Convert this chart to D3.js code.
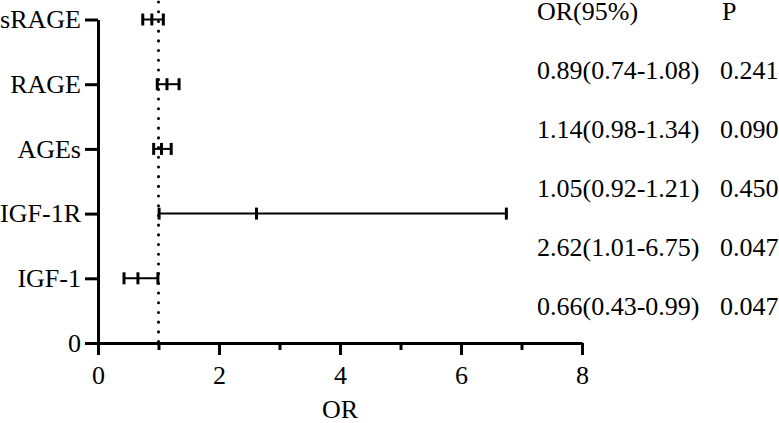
<!DOCTYPE html>
<html>
<head>
<meta charset="utf-8">
<script src="https://cdn.jsdelivr.net/npm/d3@7"></script>
</head>
<body style="margin:0;background:#fff">
<svg id="chart" width="779" height="423" style="display:block"></svg>
<script>
// ---- data (bottom to top on the y axis) ----
const categories = ["IGF-1", "IGF-1R", "AGEs", "RAGE", "sRAGE"];
const orValues   = [0.66, 2.62, 1.05, 1.14, 0.89];
const lowerCI    = [0.43, 1.01, 0.92, 0.98, 0.74];
const upperCI    = [0.99, 6.75, 1.21, 1.34, 1.08];
const pValues    = ["0.047", "0.047", "0.450", "0.090", "0.241"];
const xMajorTicks = [0, 2, 4, 6, 8];
const xMinorTicks = [1, 3, 5, 7];
const yTicks = [0, 1, 2, 3, 4, 5];
const refValue = 1;
const tableHeader = ["OR(95%)", "P"];
const xTitle = "OR";

const FS = 26;
const svg = d3.select("#chart");

function styleText(sel) {
  sel.attr("font-size", FS).attr("fill", "#000")
     .attr("font-family", "Liberation Serif")
     .style("font-family", '"Liberation Serif"');
  return sel;
}

const x = d3.scaleLinear().domain([0, 8]).range([98, 582]);
const y = d3.scaleLinear().domain([0, 5]).range([343, 19.5]);

// reference dotted line
svg.append("line")
  .attr("x1", x(refValue)).attr("x2", x(refValue))
  .attr("y1", 2).attr("y2", y(0))
  .attr("stroke", "#000").attr("stroke-width", 3)
  .attr("stroke-linecap", "round")
  .attr("stroke-dasharray", "0.1,9.6");

// x axis
const xAxis = svg.append("g").attr("transform", `translate(0,${y(0)})`)
  .call(d3.axisBottom(x).tickValues(xMajorTicks).tickSize(12).tickSizeOuter(0).tickPadding(11));
xAxis.attr("font-family", null).attr("font-size", null);
xAxis.select(".domain").attr("stroke-width", 3);
xAxis.selectAll(".tick line").attr("stroke-width", 3);
styleText(xAxis.selectAll(".tick text"));

const xMinor = svg.append("g").attr("transform", `translate(0,${y(0)})`)
  .call(d3.axisBottom(x).tickValues(xMinorTicks).tickSize(7).tickSizeOuter(0).tickFormat(""));
xMinor.select(".domain").remove();
xMinor.selectAll(".tick line").attr("stroke-width", 3);

// y axis
const yAxis = svg.append("g").attr("transform", `translate(${x(0)},0)`)
  .call(d3.axisLeft(y).tickValues(yTicks).tickSize(13).tickSizeOuter(0).tickPadding(4)
    .tickFormat(d => d === 0 ? "0" : categories[d - 1]));
yAxis.attr("font-family", null).attr("font-size", null);
yAxis.select(".domain").attr("stroke-width", 3);
yAxis.selectAll(".tick line").attr("stroke-width", 3);
styleText(yAxis.selectAll(".tick text"));

// x title
styleText(svg.append("text")
  .attr("x", x(4)).attr("y", 418)
  .attr("text-anchor", "middle"))
  .text(xTitle);

// error bars
const rows = categories.map((c, i) => ({ c, pos: i + 1, or: orValues[i], lo: lowerCI[i], hi: upperCI[i], p: pValues[i] }));
const capH = 6;
const g = svg.append("g");
rows.forEach(d => {
  const cy = y(d.pos);
  g.append("line").attr("x1", x(d.lo)).attr("x2", x(d.hi)).attr("y1", cy).attr("y2", cy)
    .attr("stroke", "#000").attr("stroke-width", 2);
  [d.lo, d.or, d.hi].forEach(v => {
    g.append("line").attr("x1", x(v)).attr("x2", x(v)).attr("y1", cy - capH).attr("y2", cy + capH)
      .attr("stroke", "#000").attr("stroke-width", 3);
  });
});

// table on the right (top to bottom)
const rowY = d3.scaleLinear().domain([0, 5]).range([20, 315]);
const colOR = 537, colP = 720;
styleText(svg.append("text").attr("x", colOR).attr("y", rowY(0))).text(tableHeader[0]);
styleText(svg.append("text").attr("x", colP + 2).attr("y", rowY(0))).text(tableHeader[1]);
rows.slice().reverse().forEach((d, i) => {
  styleText(svg.append("text").attr("x", colOR).attr("y", rowY(i + 1)))
    .text(`${d.or.toFixed(2)}(${d.lo.toFixed(2)}-${d.hi.toFixed(2)})`);
  styleText(svg.append("text").attr("x", colP).attr("y", rowY(i + 1))).text(d.p);
});
</script>
</body>
</html>
